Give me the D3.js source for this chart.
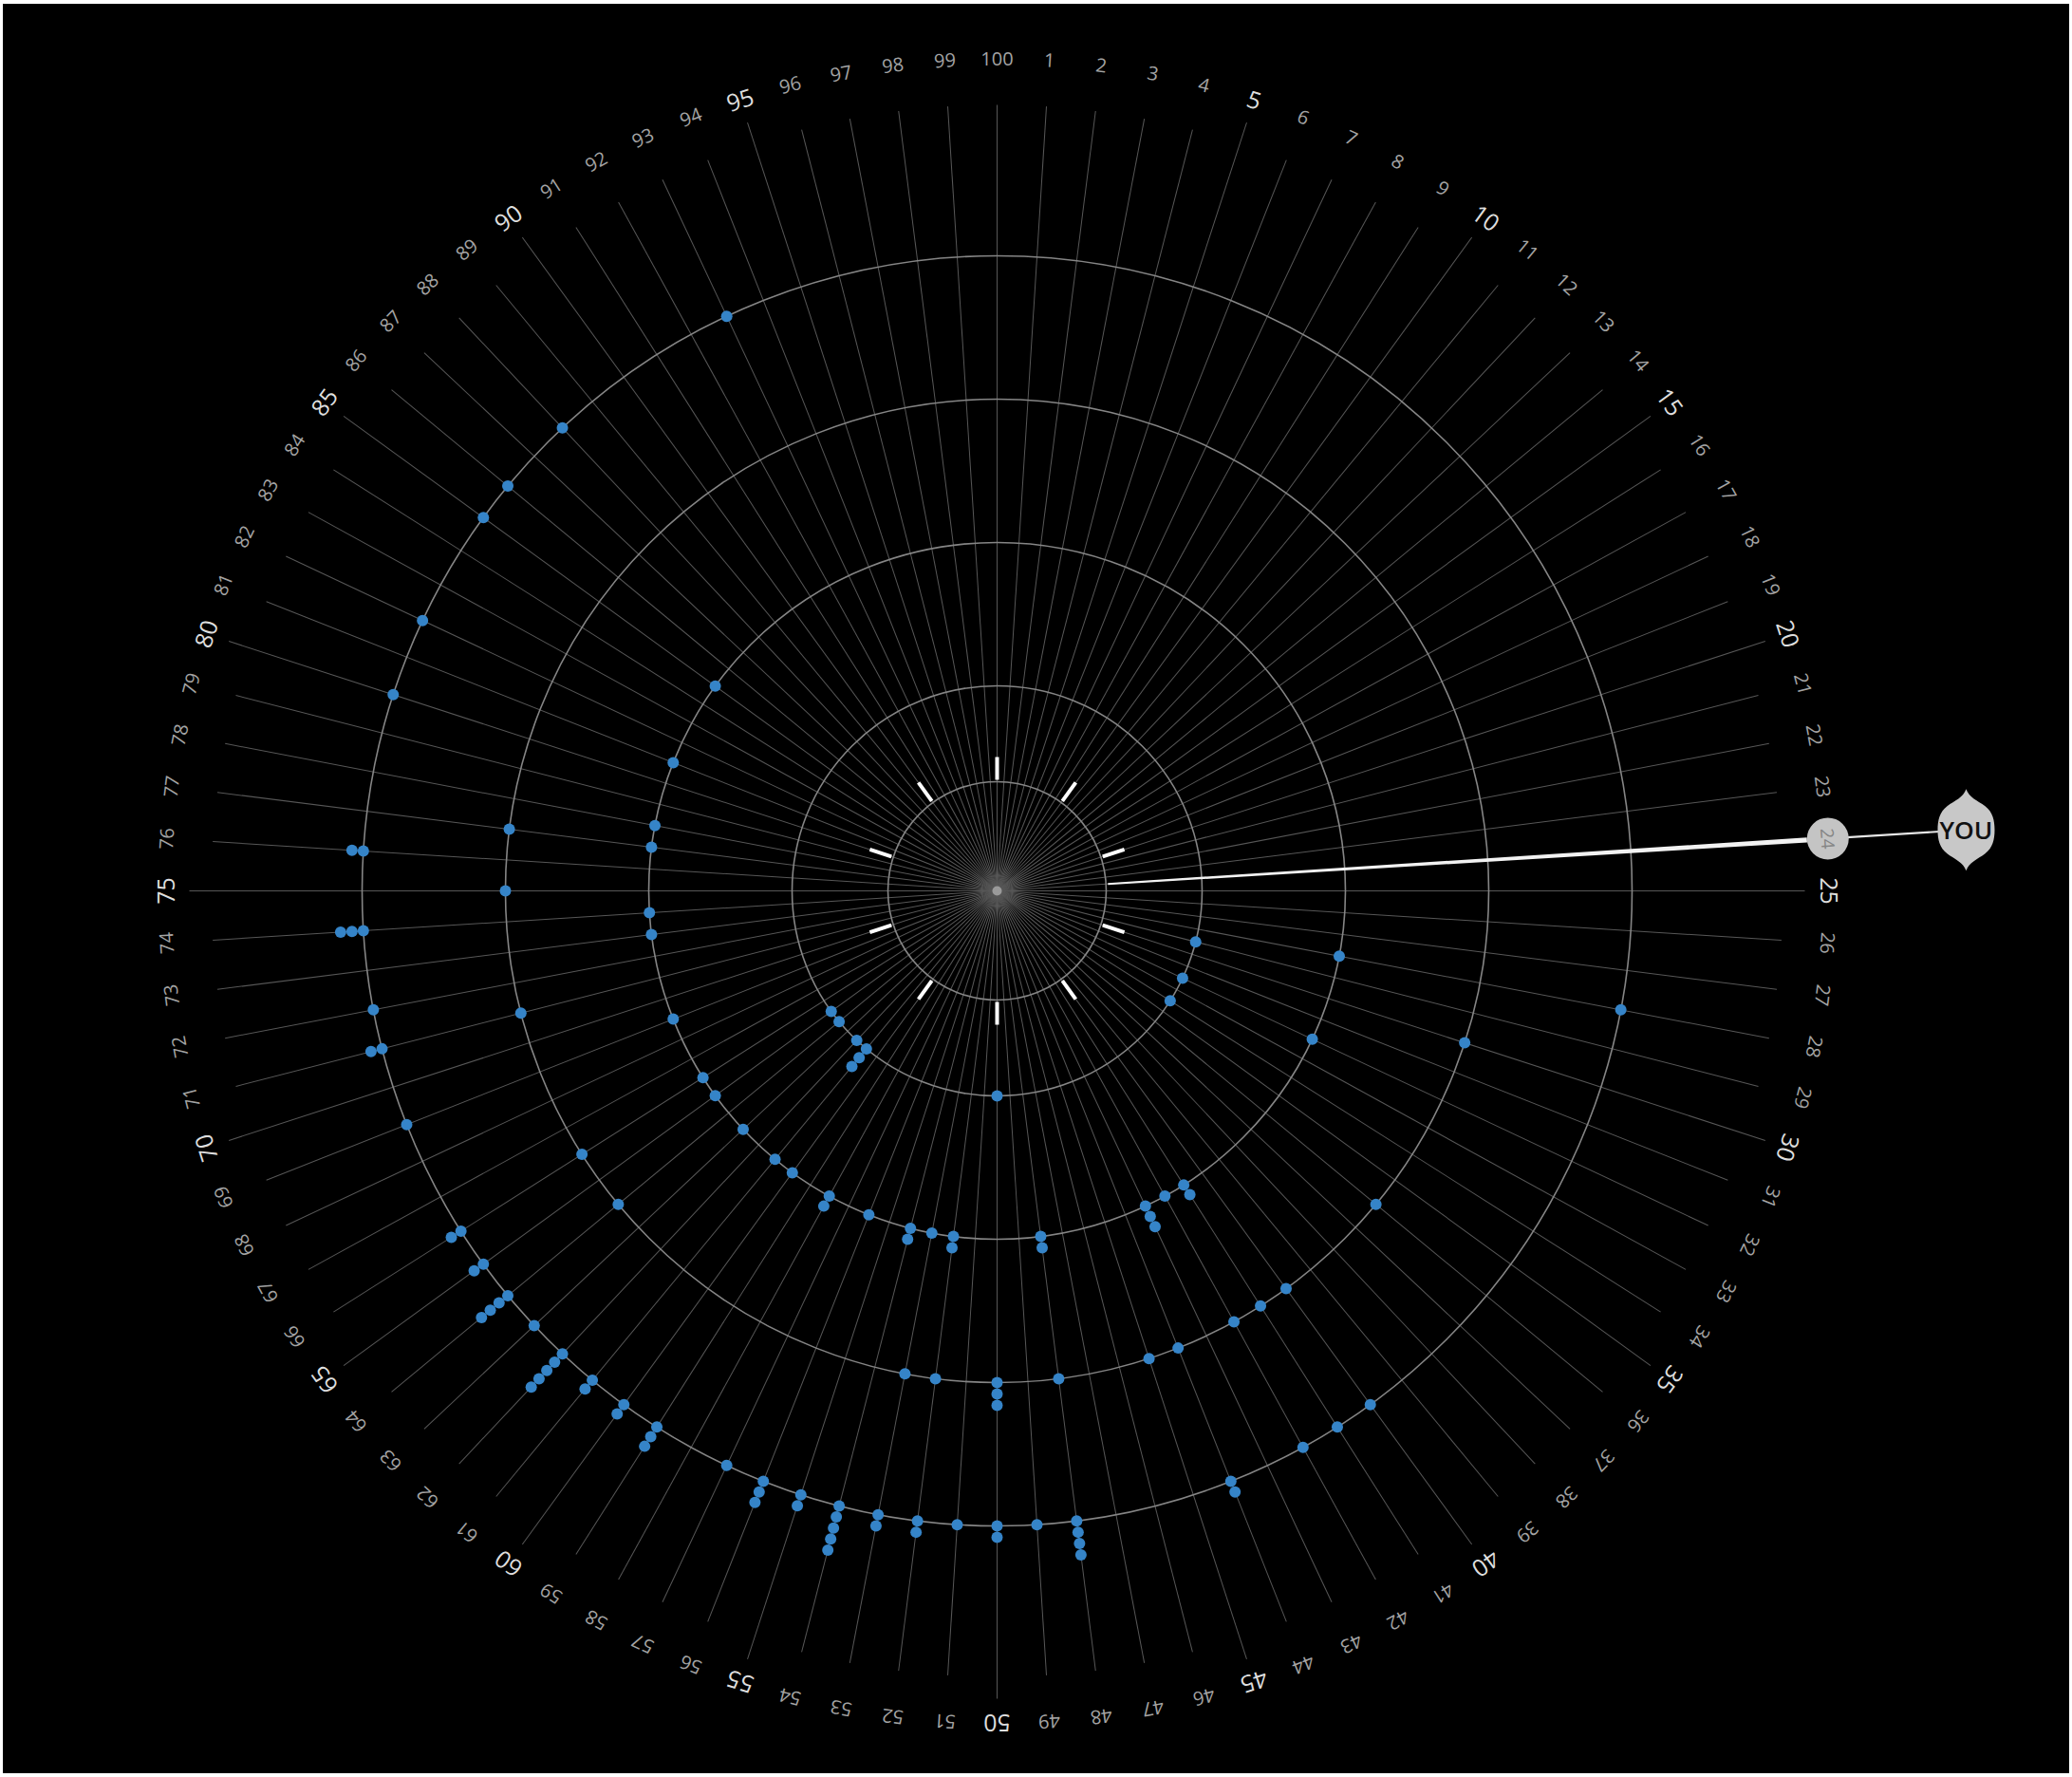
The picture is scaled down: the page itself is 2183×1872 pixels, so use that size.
<!DOCTYPE html>
<html>
<head>
<meta charset="utf-8">
<script src="https://cdn.jsdelivr.net/npm/d3@7"></script>
<style>
html,body{margin:0;padding:0;background:#ffffff;}
svg{display:block;}
</style>
</head>
<body>
<svg id="chart" width="2183" height="1872"></svg>
<script>
// ---------------- DATA ----------------
const spokeLabels = d3.range(1, 101);            // 1 .. 100 around the dial
const ringLevels = [1, 2, 3, 4];                  // concentric rings

// dots on ring 1 (innermost data ring)
const ring1Spokes = [29, 32, 34, 50, 61, 62, 64, 65];
const ring1Counts = [1, 1, 1, 1, 3, 1, 1, 1];

// dots on ring 2
const ring2Spokes = [28, 32, 41, 42, 43, 48, 52, 53, 54, 56, 58, 60, 61, 63, 65, 66, 69, 73, 74, 77, 78, 81, 85];
const ring2Counts = [1, 1, 2, 1, 3, 2, 2, 1, 2, 1, 2, 1, 1, 1, 1, 1, 1, 1, 1, 1, 1, 1, 1];

// dots on ring 3
const ring3Spokes = [30, 36, 40, 41, 42, 44, 45, 48, 50, 52, 53, 64, 66, 71, 75, 77];
const ring3Counts = [1, 1, 1, 1, 1, 1, 1, 1, 3, 1, 1, 1, 1, 1, 1, 1];

// dots on ring 4 (outer)
const ring4Spokes = [28, 40, 41, 42, 44, 48, 49, 50, 51, 52, 53, 54, 55, 56, 57, 59, 60, 61, 62, 63, 64, 65, 66, 69, 71, 72, 74, 76, 80, 82, 85, 86, 88, 93];
const ring4Counts = [1, 1, 1, 1, 2, 4, 1, 2, 1, 2, 2, 5, 2, 3, 1, 3, 2, 2, 5, 1, 4, 2, 2, 1, 2, 1, 3, 2, 1, 1, 1, 1, 1, 1];

const youValue = 24;
const youLabel = "YOU";

// ---------------- LAYOUT ----------------
const W = 2183, H = 1872;
const cx = 1050.5, cy = 938.5;
const svg = d3.select("#chart");

svg.append("rect").attr("x", 3).attr("y", 4).attr("width", W - 6).attr("height", H - 8).attr("fill", "#000");

const g = svg.append("g").attr("transform", `translate(${cx},${cy})`);

const angle = d3.scaleLinear().domain([0, 100]).range([0, 360]);        // degrees clockwise from top
const radius = d3.scaleLinear().domain([1, 4]).range([216, 669]);       // ring level -> px
const innerR = 115;
const labelR = 877;
const stackStep = 12;

const isMajor = s => s % 5 === 0 && s !== 100;
const polar = (deg, r) => {
  const a = deg * Math.PI / 180;
  return [r * Math.sin(a), -r * Math.cos(a)];
};

// spokes
g.append("g").selectAll("line")
  .data(spokeLabels)
  .join("line")
  .attr("x1", 0).attr("y1", 0)
  .attr("x2", 0).attr("y2", d => -(isMajor(d) ? 851 : 828))
  .attr("transform", d => `rotate(${angle(d)})`)
  .attr("stroke", "#575757")
  .attr("stroke-width", 1);

// rings
g.append("g").selectAll("circle")
  .data(ringLevels)
  .join("circle")
  .attr("r", d => radius(d))
  .attr("fill", "none")
  .attr("stroke", "#858585")
  .attr("stroke-width", 1.6);

// inner dial circle
g.append("circle").attr("r", innerR).attr("fill", "none").attr("stroke", "#858585").attr("stroke-width", 1.6);

// center glow
g.append("circle").attr("r", 5).attr("fill", "#9a9a9a");

// white ticks every 10
g.append("g").selectAll("line")
  .data(spokeLabels.filter(s => s % 10 === 0))
  .join("line")
  .attr("x1", 0).attr("x2", 0)
  .attr("y1", -117).attr("y2", -141)
  .attr("transform", d => `rotate(${angle(d)})`)
  .attr("stroke", "#ffffff")
  .attr("stroke-width", 4);

// labels
g.append("g").selectAll("text")
  .data(spokeLabels.filter(s => s !== youValue))
  .join("text")
  .attr("transform", d => `rotate(${angle(d)}) translate(0,${-labelR})`)
  .attr("text-anchor", "middle")
  .attr("dominant-baseline", "central")
  .attr("font-family", "'Open Sans', sans-serif")
  .attr("font-size", d => isMajor(d) ? 25 : 20)
  .attr("fill", d => isMajor(d) ? "#dedede" : "#a4a4a4")
  .text(d => d);

// dots
const rings = [
  {level: 1, spokes: ring1Spokes, counts: ring1Counts},
  {level: 2, spokes: ring2Spokes, counts: ring2Counts},
  {level: 3, spokes: ring3Spokes, counts: ring3Counts},
  {level: 4, spokes: ring4Spokes, counts: ring4Counts}
];
const dots = [];
rings.forEach(rg => {
  rg.spokes.forEach((s, i) => {
    for (let k = 0; k < rg.counts[i]; k++) {
      dots.push({spoke: s, r: radius(rg.level) + k * stackStep});
    }
  });
});
g.append("g").selectAll("circle")
  .data(dots)
  .join("circle")
  .attr("cx", d => polar(angle(d.spoke), d.r)[0])
  .attr("cy", d => polar(angle(d.spoke), d.r)[1])
  .attr("r", 6)
  .attr("fill", "#3584c8");

// YOU pointer
const youA = angle(youValue);
const p0 = polar(youA, innerR + 2), p1 = polar(youA, labelR - 22);
const perp = a => { const r = (a) * Math.PI / 180; return [Math.cos(r), Math.sin(r)]; };
const n = perp(youA);
const w0 = 1.0, w1 = 2.6;
g.append("path")
  .attr("d", `M${p0[0] + n[0] * w0},${p0[1] + n[1] * w0} L${p1[0] + n[0] * w1},${p1[1] + n[1] * w1} L${p1[0] - n[0] * w1},${p1[1] - n[1] * w1} L${p0[0] - n[0] * w0},${p0[1] - n[1] * w0} Z`)
  .attr("fill", "#f2f2f2");

const youR = 1023;
const pB = polar(youA, labelR), pY = polar(youA, youR);
g.append("line")
  .attr("x1", pB[0]).attr("y1", pB[1]).attr("x2", pY[0]).attr("y2", pY[1])
  .attr("stroke", "#e6e6e6").attr("stroke-width", 2.2);

// badge with value
g.append("circle").attr("cx", pB[0]).attr("cy", pB[1]).attr("r", 22).attr("fill", "#c4c4c4");
g.append("text")
  .attr("transform", `rotate(${youA}) translate(0,${-labelR})`)
  .attr("text-anchor", "middle")
  .attr("dominant-baseline", "central")
  .attr("font-family", "'Open Sans', sans-serif")
  .attr("font-size", 19)
  .attr("fill", "#858585")
  .text(youValue);

// YOU marker
const yg = g.append("g").attr("transform", `translate(${pY[0]},${pY[1]})`);
yg.append("path")
  .attr("d", "M0,-43 C3,-34 12,-31 20,-25 C28,-19 30,-10 30,0 C30,10 28,19 20,25 C12,31 3,34 0,43 C-3,34 -12,31 -20,25 C-28,19 -30,10 -30,0 C-30,-10 -28,-19 -20,-25 C-12,-31 -3,-34 0,-43 Z")
  .attr("fill", "#c8c8c8");
yg.append("text")
  .attr("text-anchor", "middle")
  .attr("dominant-baseline", "central")
  .attr("font-family", "'Open Sans', sans-serif")
  .attr("font-weight", 600)
  .attr("font-size", 26)
  .attr("textLength", 56)
  .attr("lengthAdjust", "spacingAndGlyphs")
  .attr("fill", "#111")
  .text(youLabel);
</script>
</body>
</html>
